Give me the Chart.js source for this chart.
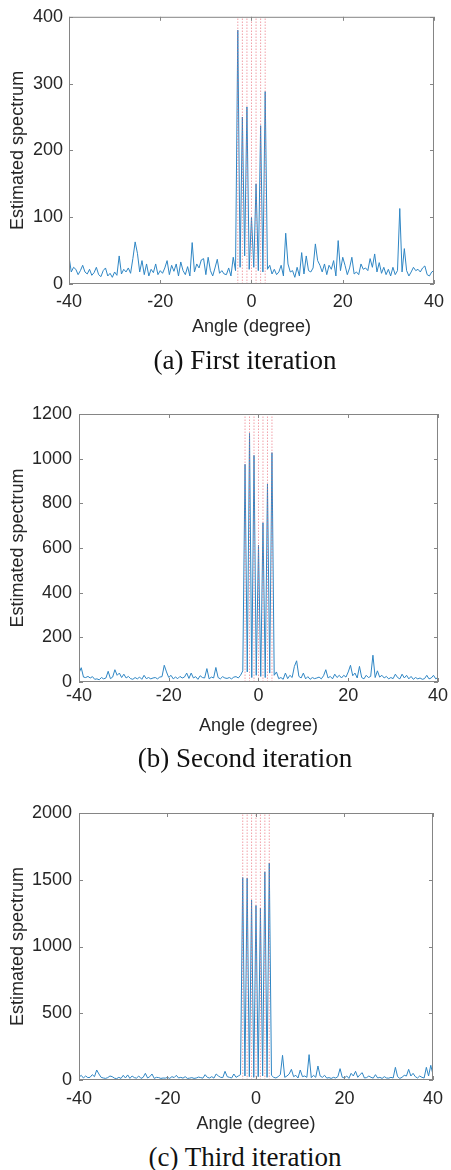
<!DOCTYPE html>
<html>
<head>
<meta charset="utf-8">
<script src="https://cdn.jsdelivr.net/npm/chart.js@4.4.1/dist/chart.umd.min.js"></script>
<style>
  body { margin: 0; background: #fff; width: 451px; height: 1170px; position: relative; overflow: hidden; }
  .panel { position: absolute; left: 0; width: 451px; }
  .caption { position: absolute; left: 245px; transform: translate(-50%, -50%); white-space: nowrap;
             font-family: "Liberation Serif", "Times New Roman", serif; font-size: 27px; color: #111; }
</style>
</head>
<body>
<div class="panel" id="p1"><canvas id="c1"></canvas></div>
<div class="panel" id="p2"><canvas id="c2"></canvas></div>
<div class="panel" id="p3"><canvas id="c3"></canvas></div>
<div class="caption" style="top:360px">(a) First iteration</div>
<div class="caption" style="top:758px">(b) Second iteration</div>
<div class="caption" style="top:1157px">(c) Third iteration</div>
<script>
// angle grid, -40 .. 40 deg in 0.5 deg steps
const angles = [];
for (let a = -40; a <= 40; a += 0.5) angles.push(a);

// true source directions (red dotted lines)
const targets = [-3, -2, -1, 0, 1, 2, 3];

const xTicks = [-40, -20, 0, 20, 40];

// estimated spectrum, first iteration
const spec1 = [
  41, 18, 25, 22, 14, 20, 28, 18, 15, 22,
  13, 17, 25, 14, 11, 20, 24, 12, 16, 10,
  18, 13, 42, 15, 22, 18, 24, 16, 38, 63,
  46, 18, 35, 14, 30, 12, 22, 17, 30, 14,
  20, 16, 24, 35, 14, 28, 19, 30, 12, 33,
  20, 14, 26, 12, 62, 18, 30, 24, 36, 38,
  14, 40, 20, 12, 24, 37, 16, 20, 15, 14,
  24, 12, 40, 20, 380, 25, 250, 42, 265, 22,
  100, 25, 150, 20, 237, 18, 288, 22, 28, 15,
  22, 14, 18, 28, 12, 76, 30, 18, 20, 10,
  25, 12, 47, 15, 42, 20, 18, 24, 60, 35,
  28, 18, 30, 14, 28, 22, 35, 12, 65, 20,
  40, 28, 14, 24, 40, 15, 18, 14, 30, 22,
  24, 20, 38, 25, 45, 18, 32, 16, 25, 14,
  22, 12, 25, 14, 20, 113, 18, 53, 20, 12,
  18, 25, 20, 22, 18, 24, 27, 14, 12, 18,
  20
];

// second iteration
const spec2 = [
  40, 64, 22, 20, 25, 18, 24, 12, 14, 10,
  20, 14, 18, 48, 15, 22, 55, 30, 40, 20,
  35, 18, 25, 15, 12, 20, 14, 22, 12, 30,
  15, 20, 14, 18, 20, 14, 22, 24, 75, 45,
  20, 30, 14, 22, 15, 25, 18, 22, 40, 16,
  40, 18, 24, 12, 28, 20, 18, 60, 14, 22,
  18, 65, 20, 14, 24, 18, 16, 20, 14, 22,
  24, 18, 30, 50, 975, 45, 1113, 20, 1015, 30,
  613, 25, 713, 20, 886, 40, 1027, 30, 45, 15,
  20, 12, 40, 15, 30, 20, 70, 95, 25, 18,
  40, 14, 24, 12, 20, 15, 18, 22, 14, 28,
  55, 18, 25, 14, 35, 20, 30, 18, 30, 22,
  45, 75, 28, 40, 18, 70, 20, 14, 30, 20,
  25, 120, 20, 50, 22, 30, 18, 25, 14, 20,
  15, 35, 20, 14, 35, 18, 30, 14, 25, 12,
  20, 14, 18, 12, 15, 30, 14, 18, 30, 14,
  20
];

// third iteration
const spec3 = [
  20, 35, 15, 30, 18, 20, 40, 25, 75, 45,
  20, 15, 12, 18, 30, 25, 14, 10, 20, 12,
  35, 15, 38, 12, 30, 18, 14, 30, 12, 20,
  50, 15, 25, 45, 12, 20, 18, 12, 15, 14,
  20, 12, 25, 18, 35, 15, 20, 14, 25, 12,
  14, 18, 12, 15, 22, 18, 14, 40, 20, 15,
  25, 14, 45, 30, 20, 18, 65, 25, 20, 15,
  45, 20, 30, 40, 1517, 30, 1512, 25, 1347, 20,
  1307, 25, 1287, 30, 1560, 20, 1625, 35, 20, 15,
  25, 40, 185, 20, 30, 45, 80, 25, 35, 15,
  75, 25, 30, 20, 190, 18, 35, 20, 105, 30,
  20, 35, 14, 18, 12, 20, 15, 25, 85, 20,
  15, 30, 12, 50, 30, 65, 20, 40, 55, 15,
  18, 30, 20, 14, 40, 15, 20, 12, 25, 15,
  14, 20, 15, 95, 25, 12, 20, 35, 30, 80,
  30, 50, 25, 15, 30, 20, 15, 95, 30, 110,
  40
];

Chart.defaults.font.family = '"Liberation Sans", Arial, sans-serif';
Chart.defaults.font.size = 18;
Chart.defaults.color = '#262626';

// matlab-like box with inward ticks
const matlabBox = {
  id: 'matlabBox',
  afterDraw(chart) {
    const { ctx, chartArea: { left, right, top, bottom }, scales: { x, y } } = chart;
    ctx.save();
    ctx.strokeStyle = '#858585';
    ctx.lineWidth = 1;
    ctx.strokeRect(left + 0.5, top + 0.5, right - left - 1, bottom - top - 1);
    ctx.beginPath();
    x.ticks.forEach(t => {
      const px = Math.round(x.getPixelForValue(t.value)) + 0.5;
      ctx.moveTo(px, bottom); ctx.lineTo(px, bottom - 4);
      ctx.moveTo(px, top); ctx.lineTo(px, top + 4);
    });
    y.ticks.forEach(t => {
      const py = Math.round(y.getPixelForValue(t.value)) + 0.5;
      ctx.moveTo(left, py); ctx.lineTo(left + 4, py);
      ctx.moveTo(right, py); ctx.lineTo(right - 4, py);
    });
    ctx.stroke();
    ctx.restore();
  }
};

function makePanel(id, canvasId, cfg) {
  const panel = document.getElementById(id);
  panel.style.top = cfg.top + 'px';
  panel.style.height = cfg.height + 'px';

  const datasets = targets.map(t => ({
    data: [{ x: t, y: 0 }, { x: t, y: cfg.yMax }],
    borderColor: 'rgba(232, 96, 110, 0.6)',
    borderWidth: 1,
    borderDash: [1.5, 1.5],
    pointRadius: 0
  }));
  datasets.push({
    data: angles.map((a, i) => ({ x: a, y: cfg.values[i] })),
    borderColor: '#2f86c4',
    borderWidth: 1,
    pointRadius: 0,
    tension: 0
  });

  new Chart(canvasId, {
    type: 'line',
    data: { datasets: datasets },
    options: {
      responsive: true,
      maintainAspectRatio: false,
      animation: false,
      layout: { padding: { top: cfg.plotTop - cfg.top, right: 11, left: 0, bottom: 0 } },
      plugins: { legend: { display: false }, tooltip: { enabled: false } },
      scales: {
        x: {
          type: 'linear',
          min: -40,
          max: 40,
          afterBuildTicks: s => { s.ticks = xTicks.map(v => ({ value: v })); },
          afterFit: s => { s.height = cfg.top + cfg.height - cfg.plotBottom; },
          grid: { display: false, drawTicks: false },
          border: { display: false },
          ticks: { padding: cfg.xTickPad, maxRotation: 0, callback: v => String(v) },
          title: { display: true, text: 'Angle (degree)', padding: { top: 0, bottom: cfg.xTitlePad } }
        },
        y: {
          min: 0,
          max: cfg.yMax,
          afterFit: s => { s.width = cfg.plotLeft; },
          grid: { display: false, drawTicks: false },
          border: { display: false },
          ticks: { stepSize: cfg.yStep, padding: cfg.yTickPad, callback: v => String(v) },
          title: { display: true, text: 'Estimated spectrum', padding: { top: 7, bottom: 0 } }
        }
      }
    },
    plugins: [matlabBox]
  });
}

makePanel('p1', 'c1', { top: 0, height: 345, plotTop: 16, plotBottom: 284, plotLeft: 69,
  yMax: 400, yStep: 100, values: spec1, xTickPad: 7, xTitlePad: 7, yTickPad: 6 });
makePanel('p2', 'c2', { top: 370, height: 370, plotTop: 414, plotBottom: 682, plotLeft: 79,
  yMax: 1200, yStep: 200, values: spec2, xTickPad: 3, xTitlePad: 3, yTickPad: 7 });
makePanel('p3', 'c3', { top: 770, height: 370, plotTop: 813, plotBottom: 1080, plotLeft: 79,
  yMax: 2000, yStep: 500, values: spec3, xTickPad: 8, xTitlePad: 5, yTickPad: 7 });
</script>
</body>
</html>
